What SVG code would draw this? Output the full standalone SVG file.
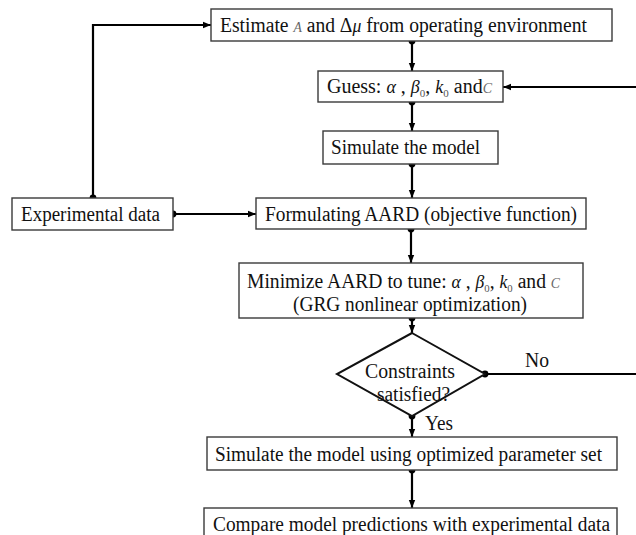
<svg xmlns="http://www.w3.org/2000/svg" width="636" height="535" viewBox="0 0 636 535">
<defs>
<marker id="ah" markerUnits="userSpaceOnUse" markerWidth="8" markerHeight="8" viewBox="0 0 8 8" refX="8" refY="4" orient="auto">
<path d="M0,0.8 L8,4 L0,7.2 z" fill="#000"/>
</marker>
<marker id="dot" markerUnits="userSpaceOnUse" markerWidth="8" markerHeight="8" viewBox="0 0 8 8" refX="4" refY="4" orient="auto">
<circle cx="4" cy="4" r="3.4" fill="#000"/>
</marker>
<style>
.box{fill:#fff;stroke:#3a3a3a;stroke-width:1.4}
.t{font-family:"Liberation Serif","Times New Roman",serif;font-size:20px;fill:#111}
.m{font-style:italic;font-size:18px}
.mg{font-style:italic;font-size:14px;fill:#666}
.s{font-size:11px;fill:#555}
.c{fill:none;stroke:#000;stroke-width:2.2;marker-start:url(#dot);marker-end:url(#ah)}
.cn{fill:none;stroke:#000;stroke-width:2.2;marker-end:url(#ah)}
.cd{fill:none;stroke:#000;stroke-width:2.2;marker-start:url(#dot)}
</style>
</defs>
<rect width="636" height="535" fill="#fff"/>
<g id="connectors">
<path class="c" d="M93,198 V25 H211"/>
<path class="c" d="M173,214 H256"/>
<path class="c" d="M412,41 V71"/>
<path class="c" d="M412,102 V131"/>
<path class="c" d="M412,164 V198"/>
<path class="c" d="M411,229 V263"/>
<path class="c" d="M412,318 V333"/>
<path class="cd" d="M485,374 H636"/>
<path class="cn" d="M636,87 H503"/>
<path class="c" d="M412,416 V437"/>
<path class="c" d="M412,470 V508"/>
<text class="t" x="525" y="367" textLength="24" lengthAdjust="spacingAndGlyphs">No</text>
<text class="t" x="425" y="430" textLength="28" lengthAdjust="spacingAndGlyphs">Yes</text>
</g>
<g id="estimate">
<rect class="box" x="211" y="9" width="401" height="32"/>
<text class="t" x="220" y="32" textLength="367" lengthAdjust="spacingAndGlyphs">Estimate <tspan class="mg">A</tspan>  and Δ<tspan class="m">μ</tspan> from operating environment</text>
</g>
<g id="guess">
<rect class="box" x="318" y="71" width="185" height="31"/>
<text class="t" x="327" y="93" textLength="165" lengthAdjust="spacingAndGlyphs">Guess: <tspan class="m">α</tspan> , <tspan class="m">β</tspan><tspan class="s" dy="4">0</tspan><tspan dy="-4">, </tspan><tspan class="m">k</tspan><tspan class="s" dy="4">0</tspan><tspan dy="-4"> and</tspan><tspan class="mg">C</tspan></text>
</g>
<g id="simulate">
<rect class="box" x="323" y="131" width="175" height="33"/>
<text class="t" x="331" y="154" textLength="149" lengthAdjust="spacingAndGlyphs">Simulate the model</text>
</g>
<g id="experimental">
<rect class="box" x="12" y="198" width="161" height="32"/>
<text class="t" x="21" y="221" textLength="139" lengthAdjust="spacingAndGlyphs">Experimental data</text>
</g>
<g id="formulating">
<rect class="box" x="256" y="198" width="330" height="31"/>
<text class="t" x="265" y="221" textLength="312" lengthAdjust="spacingAndGlyphs">Formulating AARD (objective function)</text>
</g>
<g id="minimize">
<rect class="box" x="239" y="263" width="344" height="55"/>
<text class="t" x="247" y="288" textLength="313" lengthAdjust="spacingAndGlyphs">Minimize AARD to tune: <tspan class="m">α</tspan> , <tspan class="m">β</tspan><tspan class="s" dy="4">0</tspan><tspan dy="-4">, </tspan><tspan class="m">k</tspan><tspan class="s" dy="4">0</tspan><tspan dy="-4">  and </tspan><tspan class="mg">C</tspan></text>
<text class="t" x="293" y="311" textLength="234" lengthAdjust="spacingAndGlyphs">(GRG nonlinear optimization)</text>
</g>
<g id="constraints">
<polygon class="box" points="412,333 485,374 412,416 337,374" style="stroke:#111;stroke-width:2"/>
<text class="t" x="365" y="378" textLength="90" lengthAdjust="spacingAndGlyphs">Constraints</text>
<text class="t" x="377" y="401" textLength="73" lengthAdjust="spacingAndGlyphs">satisfied?</text>
</g>
<g id="simulate-optimized">
<rect class="box" x="207" y="437" width="410" height="33"/>
<text class="t" x="215" y="461" textLength="387" lengthAdjust="spacingAndGlyphs">Simulate the model using optimized parameter set</text>
</g>
<g id="compare">
<rect class="box" x="204" y="508" width="413" height="40"/>
<text class="t" x="213" y="531" textLength="397" lengthAdjust="spacingAndGlyphs">Compare model predictions with experimental data</text>
</g>
</svg>
